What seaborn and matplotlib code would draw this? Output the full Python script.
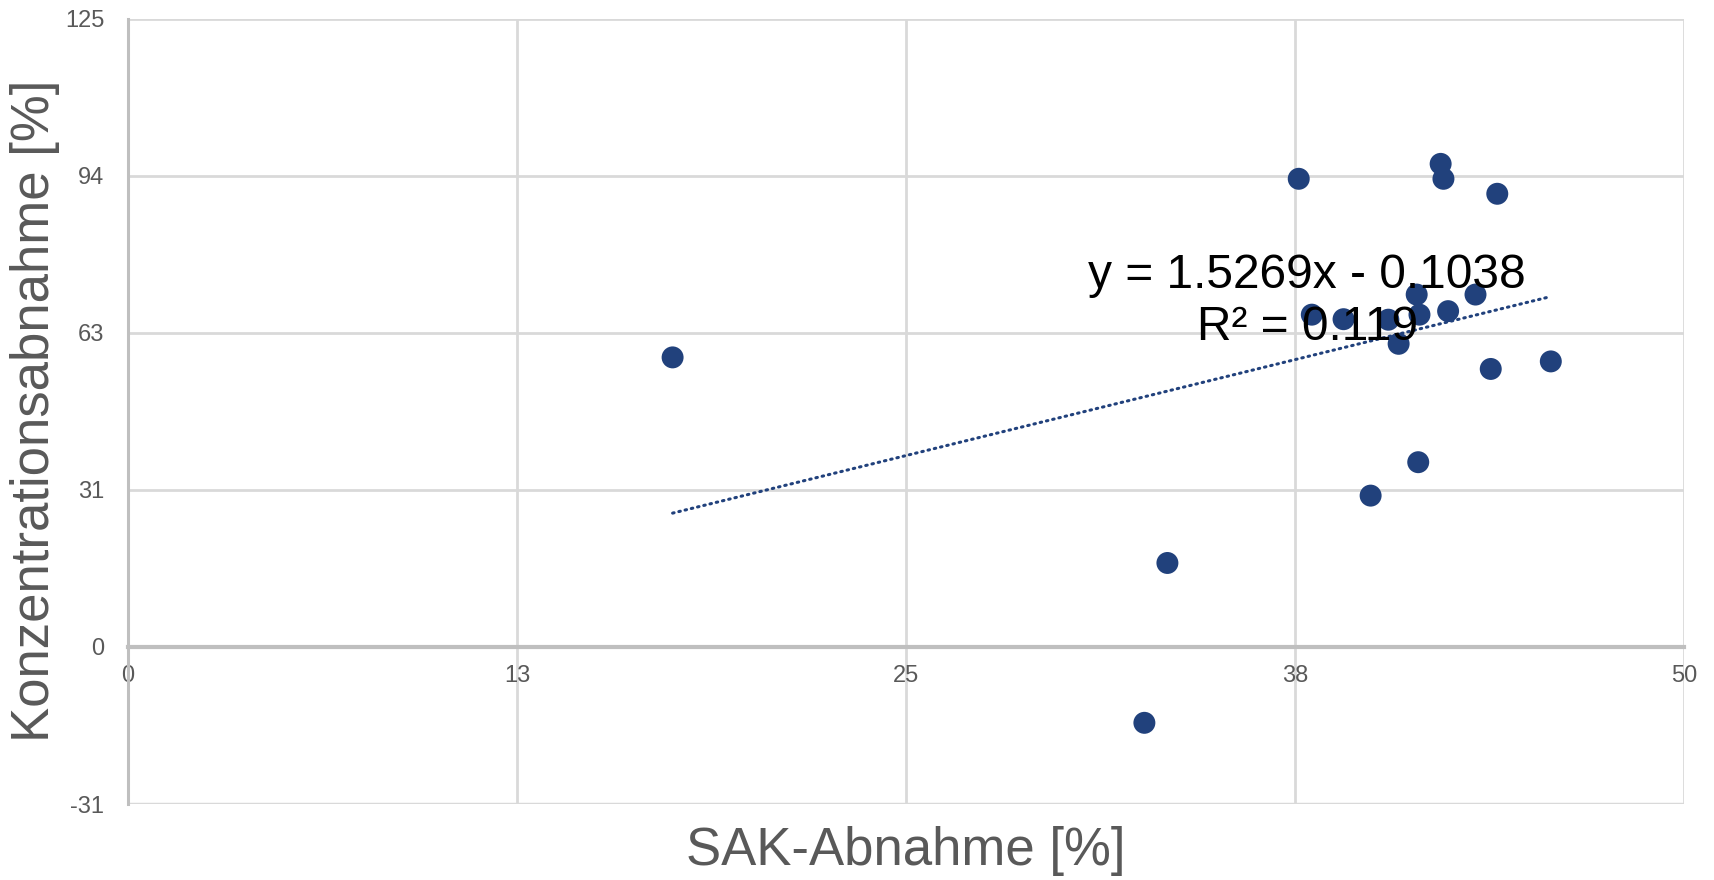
import numpy as np
import pandas as pd
import matplotlib
matplotlib.use("Agg")
import matplotlib.pyplot as plt
import seaborn as sns

# ---- data ----
sak_abnahme = [17.5, 33.4, 32.66, 37.62, 38.04, 39.06, 39.93, 40.5, 40.83, 41.41,
               41.5, 41.46, 42.18, 42.27, 42.42, 43.3, 43.79, 44.0, 45.72]
konz_abnahme = [57.6, 16.7, -15.1, 93.13, 66.1, 65.2, 30.1, 65.1, 60.3, 70.1,
                66.1, 36.75, 96.1, 93.13, 66.8, 70.1, 55.3, 90.15, 56.8]
trend_slope = 1.5269
trend_intercept = -0.1038
r_squared = "0.119"
x_ticks = [0, 12.5, 25, 37.5, 50]
x_tick_labels = ["0", "13", "25", "38", "50"]
y_ticks = [-31.25, 0, 31.25, 62.5, 93.75, 125]
y_tick_labels = ["-31", "0", "31", "63", "94", "125"]
x_label = "SAK-Abnahme [%]"
y_label = "Konzentrationsabnahme [%]"

df = pd.DataFrame({"x": sak_abnahme, "y": konz_abnahme})

sns.set_theme(style="white")
plt.rcParams["font.family"] = ["Liberation Sans", "DejaVu Sans"]

W, H = 1715, 880
fig = plt.figure(figsize=(W / 100, H / 100), dpi=100)
ax = fig.add_axes([128 / W, 1 - 804 / H, (1684 - 128) / W, (804 - 18.6) / H])

ax.set_xlim(0, 50)
ax.set_ylim(-31.25, 125)

grid_c = "#d9d9d9"
ax.set_axisbelow(True)
ax.grid(True, color=grid_c, linewidth=2.0)
for s in ["top", "right"]:
    ax.spines[s].set_visible(False)
ax.spines["bottom"].set_position(("data", 0))
ax.spines["bottom"].set_color("#bfbfbf")
ax.spines["bottom"].set_linewidth(3.0)
ax.spines["left"].set_color("#bfbfbf")
ax.spines["left"].set_linewidth(2.2)
ax.axhline(-31.25, color=grid_c, linewidth=2.5, zorder=0.5)

ax.set_xticks(x_ticks)
ax.set_xticklabels(x_tick_labels)
ax.set_yticks(y_ticks)
ax.set_yticklabels(y_tick_labels)
ax.tick_params(axis="both", length=0, labelsize=17, labelcolor="#595959")
ax.tick_params(axis="x", pad=13)
ax.tick_params(axis="y", pad=17)

# trendline from equation
xs = np.array([min(sak_abnahme), max(sak_abnahme)])
ax.plot(xs, trend_slope * xs + trend_intercept, linestyle=(0, (0.5, 1.6)),
        color="#21417c", linewidth=2.2, dash_capstyle="round", zorder=2)

sns.scatterplot(data=df, x="x", y="y", ax=ax, s=250, color="#21417c",
                edgecolor="none", zorder=3, legend=False)

ax.text(37.89, 68.7, f"y = {trend_slope}x - {abs(trend_intercept)}\nR² = {r_squared}",
        ha="center", va="center", multialignment="center", fontsize=34.5,
        color="black", linespacing=1.2, zorder=4)

ax.set_xlabel(x_label, fontsize=38, color="#595959", va="center")
ax.set_ylabel(y_label, fontsize=38, color="#595959", va="center")
ax.xaxis.set_label_coords(0.5, (804 - 851) / (804 - 18.6))
ax.yaxis.set_label_coords((35 - 128) / (1684 - 128), 0.5)

fig.savefig("out.png", dpi=100, facecolor="white")
